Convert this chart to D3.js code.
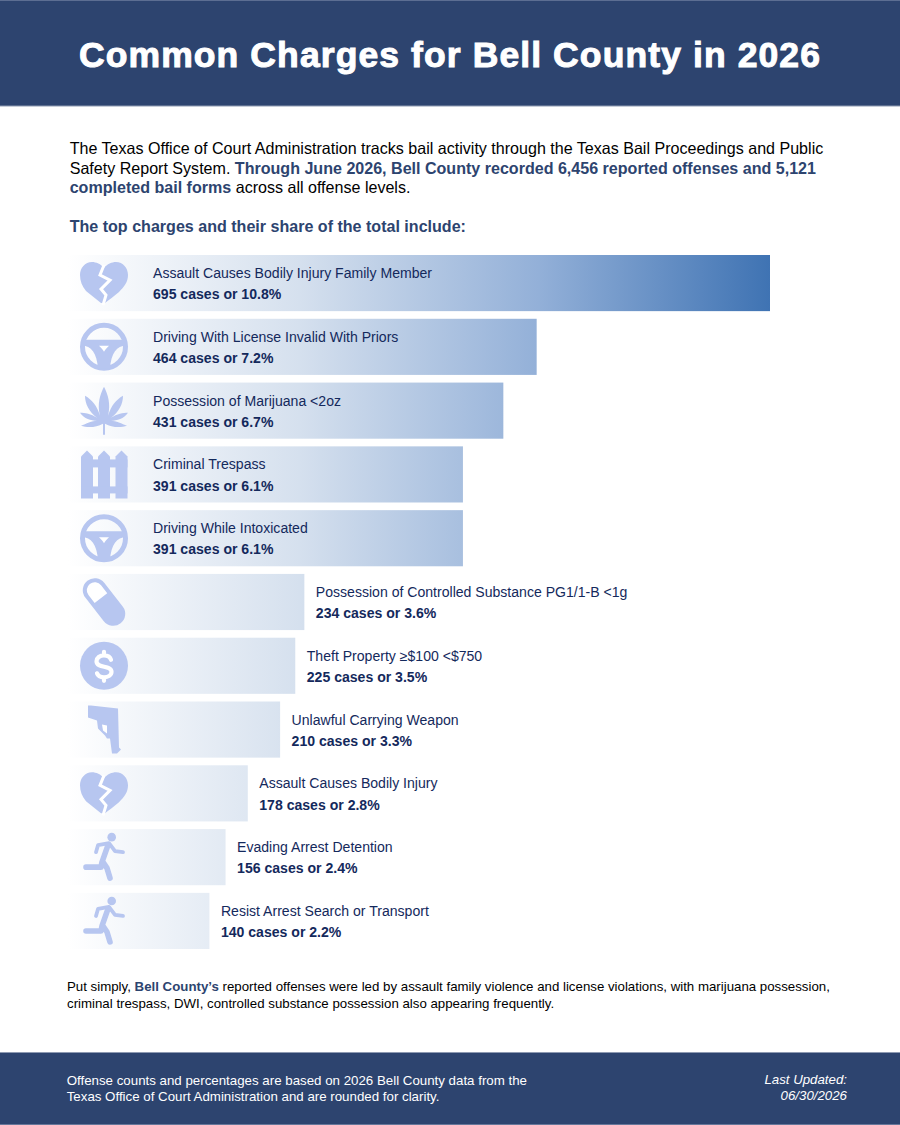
<!DOCTYPE html>
<html>
<head>
<meta charset="utf-8">
<script src="https://cdn.jsdelivr.net/npm/d3@7"></script>
<style>
  html, body { margin: 0; padding: 0; background: #fff; }
  text { font-family: "Liberation Sans", Arial, sans-serif; }
</style>
</head>
<body>
<div id="chart"></div>
<script>
const charges = [
  "Assault Causes Bodily Injury Family Member",
  "Driving With License Invalid With Priors",
  "Possession of Marijuana <2oz",
  "Criminal Trespass",
  "Driving While Intoxicated",
  "Possession of Controlled Substance PG1/1-B <1g",
  "Theft Property ≥$100 <$750",
  "Unlawful Carrying Weapon",
  "Assault Causes Bodily Injury",
  "Evading Arrest Detention",
  "Resist Arrest Search or Transport"
];
const cases = [695, 464, 431, 391, 391, 234, 225, 210, 178, 156, 140];
const shares = ["10.8%", "7.2%", "6.7%", "6.1%", "6.1%", "3.6%", "3.5%", "3.3%", "2.8%", "2.4%", "2.2%"];
const icons = ["heart", "wheel", "leaf", "fence", "wheel", "pill", "dollar", "gun", "heart", "runner", "runner"];
const labelsInside = 5; // first five rows keep the label inside the bar

const navy = "#2d446f", ink = "#14295c", iconBlue = "#b7c6f0";
const width = 900, height = 1125;

const svg = d3.select("#chart").append("svg")
  .attr("width", width).attr("height", height)
  .style("display", "block");

// one gradient shared by all bars, so short bars stay pale
const grad = svg.append("defs").append("linearGradient")
  .attr("id", "barFill")
  .attr("gradientUnits", "userSpaceOnUse")
  .attr("x1", 68).attr("x2", 770).attr("y1", 0).attr("y2", 0);
[[0, "#ffffff"], [0.33, "#d5e0ee"], [0.67, "#93b0d8"], [1, "#3f73b3"]].forEach(d => {
  grad.append("stop").attr("offset", d[0]).attr("stop-color", d[1]);
});

// header and footer, with the thin pale edge lines
svg.append("rect").attr("width", width).attr("height", 106).attr("fill", navy);
svg.append("rect").attr("y", 1052).attr("width", width).attr("height", 73).attr("fill", navy);
[[0, "#5c6e92"], [105.5, "#8e9ab2"], [1052, "#8e9ab2"], [1124, "#66779a"]].forEach(d => {
  svg.append("rect").attr("y", d[0]).attr("width", width).attr("height", 1).attr("fill", d[1]);
});

svg.append("text")
  .attr("x", 450).attr("y", 67)
  .attr("text-anchor", "middle")
  .attr("fill", "#fff")
  .attr("stroke", "#fff").attr("stroke-width", 1)
  .attr("font-size", 35.5).attr("font-weight", 700)
  .attr("letter-spacing", 1.1)
  .text("Common Charges for Bell County in 2026");

// text block made of runs, bold ones in navy
function para(x, y, size, runs) {
  const t = svg.append("text").attr("x", x).attr("y", y).attr("font-size", size).attr("fill", "#000");
  runs.forEach(r => {
    t.append("tspan").attr("fill", r[1] ? navy : "#000").attr("font-weight", r[1] ? 700 : 400).text(r[0]);
  });
  return t;
}
para(69.7, 154, 16.07, [["The Texas Office of Court Administration tracks bail activity through the Texas Bail Proceedings and Public", false]]);
para(69.7, 174, 16.07, [["Safety Report System. ", false], ["Through June 2026, Bell County recorded 6,456 reported offenses and 5,121", true]]);
para(69.7, 193, 16.07, [["completed bail forms", true], [" across all offense levels.", false]]);
para(69.7, 232, 16.07, [["The top charges and their share of the total include:", true]]);

// chart
const x = d3.scaleLinear().domain([0, d3.max(cases)]).range([68, 770]);
const y = d3.scaleBand().domain(d3.range(charges.length)).range([255, 949]).paddingInner(0.12).paddingOuter(0);

const rows = svg.append("g").selectAll("g")
  .data(charges)
  .join("g")
  .attr("transform", (d, i) => `translate(0,${y(i)})`);

rows.append("rect")
  .attr("x", x(0))
  .attr("width", (d, i) => x(cases[i]) - x(0))
  .attr("height", y.bandwidth())
  .attr("fill", "url(#barFill)");

const labelX = i => i < labelsInside ? 153 : x(cases[i]) + 11.5;

rows.append("text")
  .attr("x", (d, i) => labelX(i))
  .attr("y", 23)
  .attr("font-size", 14.07)
  .attr("fill", ink)
  .text(d => d);

rows.append("text")
  .attr("x", (d, i) => labelX(i))
  .attr("y", 44.3)
  .attr("font-size", 14.07)
  .attr("font-weight", 700)
  .attr("fill", ink)
  .text((d, i) => `${cases[i]} cases or ${shares[i]}`);

// icon glyphs, drawn in a box with origin at the icon centre
const white = "#ffffff";
const drawIcon = {
  heart(g) {
    g.append("path").attr("fill", iconBlue)
      .attr("d", "M0,-15 C3,-19 8,-21 12,-21 C19,-21 24,-15 24,-8 C24,-1 20,4 15,9 C10,13 5,17 1,20 L-3,20 C-8,16 -13,12 -18,8 C-22,3 -24,-2 -24,-8 C-24,-15 -19,-21 -12,-21 C-8,-21 -3,-19 0,-15 Z");
    g.append("path").attr("fill", "none").attr("stroke", white).attr("stroke-width", 3)
      .attr("d", "M0,-18 L-4,-8 L6,-3 L-3,6 L2,12 L-1,22");
  },
  wheel(g) {
    g.append("circle").attr("r", 21.5).attr("fill", "none").attr("stroke", iconBlue).attr("stroke-width", 5);
    g.append("path").attr("fill", iconBlue)
      .attr("d", "M-22,-7 L22,-7 L22,-1 C13,-1 7,6 6,22 L-6,22 C-7,6 -13,-1 -22,-1 Z");
    g.append("path").attr("fill", white).attr("d", "M-5,-1 L5,-1 C3,1 1,3 0,5 C-1,3 -3,1 -5,-1 Z");
  },
  leaf(g) {
    g.append("path").attr("fill", iconBlue)
      .attr("d", "M0,-24 C4,-16 7,-7 4,5 C7,-5 12,-11 19,-15 C19,-7 15,1 7,7 C13,3 19,2 24,2 C20,8 13,10 7,10 C12,10 18,13 23,15 C17,17 8,17 1,13 L1,24 L-1,24 L-1,13 C-8,17 -17,17 -23,15 C-18,13 -12,10 -7,10 C-13,10 -20,8 -24,2 C-19,2 -13,3 -7,7 C-15,1 -19,-7 -19,-15 C-12,-11 -7,-5 -4,5 C-7,-7 -4,-16 0,-24 Z");
  },
  fence(g) {
    [-23, -6, 11.5].forEach(px => {
      g.append("path").attr("fill", iconBlue)
        .attr("d", `M${px},-18 L${px + 6},-24 L${px + 12},-18 L${px + 12},24 L${px},24 Z`);
    });
    [[-15, 8], [12, 7]].forEach(r => {
      g.append("rect").attr("x", -23).attr("y", r[0]).attr("width", 46.5).attr("height", r[1]).attr("fill", iconBlue);
    });
  },
  pill(g) {
    g.attr("transform", "rotate(-38)");
    g.append("rect").attr("x", -12).attr("y", -27).attr("width", 24).attr("height", 54).attr("rx", 12).attr("fill", iconBlue);
    g.append("path").attr("fill", white).attr("d", "M-8,-5 L-8,-15 A8,8 0 0 1 8,-15 L8,-5 Z");
  },
  dollar(g) {
    g.append("circle").attr("r", 24).attr("fill", iconBlue);
    g.append("path").attr("fill", "none").attr("stroke", white).attr("stroke-width", 4.2).attr("stroke-linecap", "round")
      .attr("d", "M7,-6 C6,-10 3,-10.5 0,-10.5 C-4,-10.5 -7.5,-8 -7.5,-4.5 C-7.5,3 7.5,-1 7.5,6 C7.5,9.5 4,11.5 0,11.5 C-3,11.5 -6,10.5 -7,7.5 M0,-14 L0,-11 M0,12 L0,15");
  },
  gun(g) {
    g.append("path").attr("fill", iconBlue)
      .attr("d", "M-16,-24 L-13,-24 L14,-21 L15,18 L17,20 L13,24 L8,24 L6,9 L3,9 L1,6 L-6,-1 L-7,-9 L-16,-12 Z");
    g.append("path").attr("fill", white).attr("d", "M-2,-5 L3,-4 L3,4 L-1,1 Z");
  },
  runner(g) {
    g.append("circle").attr("cx", 7.7).attr("cy", -20).attr("r", 4.3).attr("fill", iconBlue);
    g.append("path").attr("fill", "none").attr("stroke", iconBlue).attr("stroke-width", 3.8)
      .attr("stroke-linecap", "round").attr("stroke-linejoin", "round")
      .attr("d", "M-8,-5 L-6,-12 L5,-14 L11,-6 L19,-5");
    g.append("path").attr("fill", "none").attr("stroke", iconBlue).attr("stroke-width", 5.6)
      .attr("stroke-linecap", "round").attr("stroke-linejoin", "round")
      .attr("d", "M4,-12 L-2,5 L-3,10 L-18,10 M-1,5 L3,11 L6,21");
  }
};

rows.append("g")
  .attr("transform", (d, i) => `translate(104,${y.bandwidth() / 2})`)
  .each(function(d, i) {
    const holder = d3.select(this).append("g");
    drawIcon[icons[i]](holder);
  });

// closing note
para(67, 991, 13.27, [["Put simply, ", false], ["Bell County’s", true], [" reported offenses were led by assault family violence and license violations, with marijuana possession,", false]]);
para(67, 1008, 13.27, [["criminal trespass, DWI, controlled substance possession also appearing frequently.", false]]);

// footer text
const foot = [
  ["Offense counts and percentages are based on 2026 Bell County data from the", 1085],
  ["Texas Office of Court Administration and are rounded for clarity.", 1101]
];
foot.forEach(d => {
  svg.append("text").attr("x", 66.7).attr("y", d[1]).attr("font-size", 13.3).attr("fill", "#fff").text(d[0]);
});
[["Last Updated:", 1084], ["06/30/2026", 1100]].forEach(d => {
  svg.append("text").attr("x", 847).attr("y", d[1]).attr("text-anchor", "end")
    .attr("font-size", 13.28).attr("font-style", "italic").attr("fill", "#fff").text(d[0]);
});
</script>
</body>
</html>
